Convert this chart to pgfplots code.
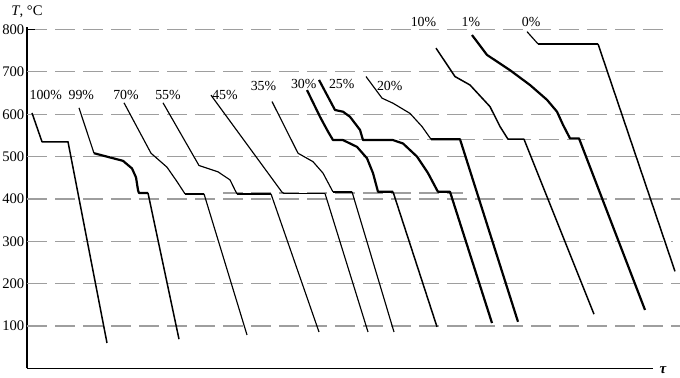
\documentclass[border=0pt]{standalone}
\usepackage{fontspec}
\setmainfont{Liberation Serif}
\usepackage{pgfplots}
\pgfplotsset{compat=1.18}
\tikzset{
  gridln/.style={draw=black!38, line width=1.2bp, dash pattern=on 20bp off 8bp},
  cthin/.style={black, line width=1.15bp, line join=round},
  cmed/.style={black, line width=1.5bp, line join=round},
  cthick/.style={black, line width=2.2bp, line join=round},
}
\newcommand\lbl{\fontsize{13.9}{16}\selectfont}
\begin{document}
\begin{tikzpicture}
\begin{axis}[
  scale only axis, width=626bp, height=341bp,
  xmin=27, xmax=653, ymin=0, ymax=805,
  axis lines=left, axis line style={-, line width=1.7bp, black},
  xtick=\empty, ytick={100,200,...,800},
  major tick length=0pt, tick style={draw=none},
  yticklabel style={font=\fontsize{14.7}{16}\selectfont, inner sep=0pt, xshift=-2.5bp},
  /pgf/number format/assume math mode=true,
  clip=false,
]
% grid lines
\addplot[gridln] coordinates {(27,800)(663,800)};
\addplot[gridln] coordinates {(27,700)(669,700)};
\addplot[gridln] coordinates {(27,600)(680,600)};
\addplot[gridln] coordinates {(27,500)(680,500)};
\addplot[gridln] coordinates {(27,400)(680,400)};
\addplot[gridln] coordinates {(27,300)(673,300)};
\addplot[gridln] coordinates {(27,200)(680,200)};
\addplot[gridln] coordinates {(27,100)(680,100)};
\addplot[gridln] coordinates {(223,414)(463,414)};
\addplot[gridln] coordinates {(343,540)(585,540)};
\addplot[black, line width=1.7bp] coordinates {(27,800)(35,800)};
% 100%
\addplot[cmed] coordinates {(32,603)(42,535)(68,535)(107,60)};
% 99%
\addplot[cthin] coordinates {(79,615)(94,508)};
\addplot[cthick] coordinates {(94,508)(110,498)(123,490)(132,472)(136,451)(138,421)(139,414)(148,414)};
\addplot[cmed] coordinates {(148,414)(179,69)};
% 70%
\addplot[cthin] coordinates {(124,627)(151,508)(167,475)(177,441)(185,412)};
\addplot[cmed] coordinates {(185,412)(204,412)};
\addplot[cthin] coordinates {(204,412)(247,79)};
% 55%
\addplot[cthin] coordinates {(163,627)(199,479)(218,464)(230,445)(235,421)(237,412)};
\addplot[cmed] coordinates {(237,412)(271,412)};
\addplot[cthin] coordinates {(271,412)(319,86)};
% 45%
\addplot[cthin] coordinates {(211,645)(282,416)(284,413)};
\addplot[cmed] coordinates {(284,413)(325,413)};
\addplot[cthin] coordinates {(325,413)(368,86)};
% 35%
\addplot[cthin] coordinates {(272,630)(298,508)(313,488)(323,461)(332,421)(333,417)};
\addplot[cmed] coordinates {(333,417)(352,417)};
\addplot[cthin] coordinates {(352,417)(394,86)};
% 30%
\addplot[cthick] coordinates {(307,657)(320,594)(328,559)(333,539)(343,539)(357,523)(367,496)(373,461)(378,417)(393,417)};
\addplot[cmed] coordinates {(393,417)(437,98)};
% 25%
\addplot[cthick] coordinates {(319,681)(335,610)(343,606)(350,594)(360,563)(363,539)(393,539)(403,531)(417,500)(428,461)(437,421)(438,417)(450,417)(492,107)};
% 20%
\addplot[cthin] coordinates {(366,689)(382,638)(393,626)(410,602)(422,571)(431,541)};
\addplot[cthick] coordinates {(431,541)(460,541)(518,110)};
% 10%
\addplot[cmed] coordinates {(436,756)(455,689)(470,669)(490,618)(500,571)(508,541)(524,541)(594,128)};
% 1%
\addplot[cthick] coordinates {(472,787)(487,740)(510,704)(530,669)(547,634)(557,606)(563,575)(570,543)(579,543)(645,138)};
% 0%
\addplot[cthin] coordinates {(527,795)(538,766)};
\addplot[cthick] coordinates {(538,766)(598,766)};
\addplot[cmed] coordinates {(598,766)(675,229)};
% labels
\node[anchor=base, font=\lbl] at (axis cs:45.8,634) {100\%};
\node[anchor=base, font=\lbl] at (axis cs:81.3,634) {99\%};
\node[anchor=base, font=\lbl] at (axis cs:126,634) {70\%};
\node[anchor=base, font=\lbl] at (axis cs:168,634) {55\%};
\node[anchor=base, font=\lbl] at (axis cs:225,634) {45\%};
\node[anchor=base, font=\lbl] at (axis cs:263.5,655) {35\%};
\node[anchor=base, font=\lbl] at (axis cs:303.7,660) {30\%};
\node[anchor=base, font=\lbl] at (axis cs:341.7,660) {25\%};
\node[anchor=base, font=\lbl] at (axis cs:389.7,657) {20\%};
\node[anchor=base, font=\lbl] at (axis cs:423.5,808) {10\%};
\node[anchor=base, font=\lbl] at (axis cs:470.8,808) {1\%};
\node[anchor=base, font=\lbl] at (axis cs:531.2,808) {0\%};
\node[anchor=base, font=\fontsize{14.7}{16}\selectfont] at (axis cs:27,832) {\textit{T}, °C};
\node[anchor=base, inner sep=1pt, font=\fontsize{15}{16}\selectfont\bfseries\itshape] at (axis cs:663,-13) {τ};
\end{axis}
\pgfresetboundingbox
\path[use as bounding box] (-27bp,-9.6bp) rectangle (653bp,368.4bp);
\end{tikzpicture}
\end{document}
